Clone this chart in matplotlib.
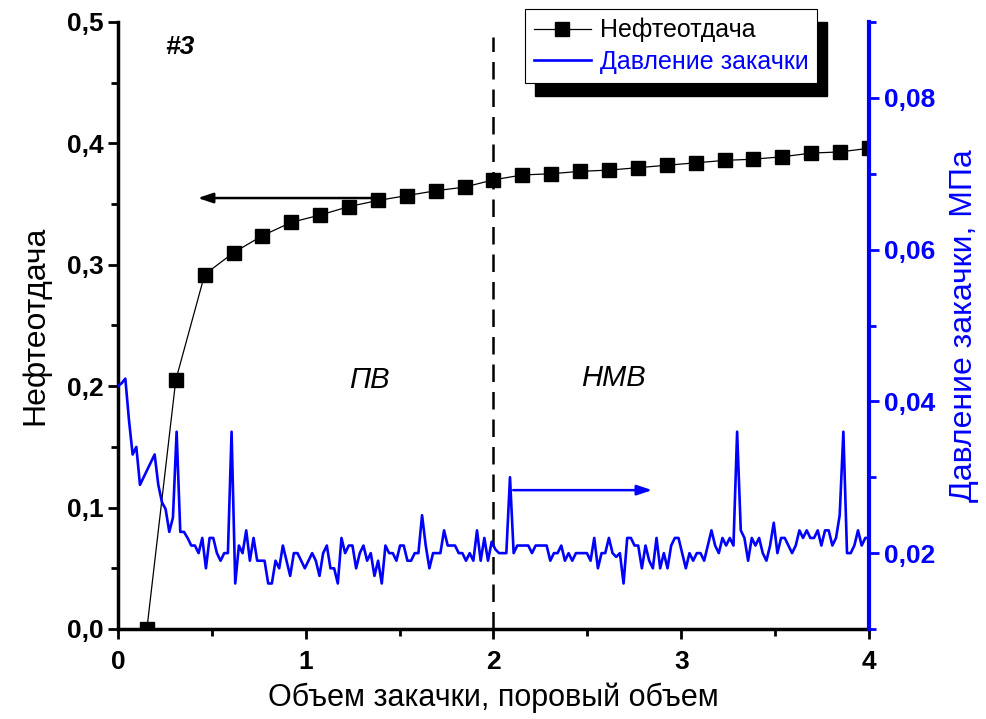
import numpy as np
import matplotlib.pyplot as plt
from matplotlib.patches import Rectangle
from matplotlib.ticker import MultipleLocator, FuncFormatter

plt.rcParams['font.family'] = ['Liberation Sans', 'DejaVu Sans']

# нефтеотдача, 26 точек на интервале 0..4 п.о.
rf_x = np.arange(1, 27) * 4 / 26
rf = [0.0, 0.205, 0.292, 0.310, 0.324, 0.335, 0.341, 0.348, 0.353, 0.357,
      0.361, 0.364, 0.370, 0.374, 0.375, 0.377, 0.378, 0.380, 0.382, 0.384,
      0.386, 0.387, 0.389, 0.392, 0.393, 0.396]

# давление закачки, МПа
p = [0.042, 0.0424, 0.043, 0.0375, 0.033, 0.034, 0.029, 0.030, 0.031, 0.032,
     0.033, 0.029, 0.0267, 0.0258, 0.0228, 0.0247, 0.036, 0.0228, 0.0228, 0.022,
     0.021, 0.021, 0.020, 0.022, 0.018, 0.022, 0.022, 0.020, 0.019, 0.020,
     0.020, 0.036, 0.016,
     0.021, 0.020, 0.023, 0.019, 0.022, 0.019, 0.019, 0.019, 0.016, 0.016,
     0.019, 0.018, 0.021, 0.019, 0.017, 0.020, 0.020, 0.019, 0.018, 0.019,
     0.020, 0.019, 0.017, 0.020, 0.021, 0.018, 0.018, 0.016, 0.022, 0.020,
     0.021, 0.021, 0.018, 0.020, 0.021, 0.019,
     0.020, 0.017, 0.019, 0.016, 0.021, 0.020, 0.020, 0.019, 0.021, 0.021,
     0.019, 0.019, 0.020, 0.020, 0.025, 0.021, 0.018, 0.020, 0.020, 0.020,
     0.023, 0.021, 0.021, 0.021, 0.020, 0.020, 0.019, 0.020, 0.019, 0.023,
     0.019, 0.022, 0.019,
     0.0215, 0.0205, 0.020, 0.020, 0.020, 0.030, 0.020, 0.021, 0.021, 0.021,
     0.021, 0.020, 0.021, 0.021, 0.021, 0.021, 0.019, 0.020, 0.020, 0.021,
     0.019, 0.020, 0.019, 0.020, 0.020, 0.020, 0.020, 0.019, 0.022, 0.018,
     0.020, 0.020, 0.022, 0.020, 0.0195,
     0.020, 0.016, 0.022, 0.022, 0.021, 0.021, 0.018, 0.021, 0.019, 0.018,
     0.022, 0.018, 0.020, 0.018, 0.021, 0.022, 0.022, 0.020, 0.018, 0.020,
     0.019, 0.020, 0.020, 0.019, 0.021, 0.023, 0.021, 0.020, 0.022, 0.021,
     0.022, 0.021, 0.036, 0.023, 0.022, 0.019, 0.022, 0.021, 0.022, 0.020,
     0.019, 0.021, 0.024, 0.020, 0.022, 0.022, 0.021, 0.020, 0.021, 0.023,
     0.022, 0.023, 0.022, 0.022, 0.023, 0.021, 0.023, 0.023, 0.021, 0.022,
     0.025, 0.036, 0.020, 0.020, 0.021, 0.023, 0.021, 0.022, 0.022]
p_x = np.linspace(0, 4, len(p))

blue = '#0000ff'

fig = plt.figure(figsize=(9.87, 7.19), dpi=100)
ax = fig.add_axes([118 / 987, 1 - 629 / 719, 751 / 987, 607 / 719])
ax2 = ax.twinx()

l1, = ax.plot(rf_x, rf, 'k-', lw=0.9, marker='s', ms=9.5, label='Нефтеотдача')
l2, = ax2.plot(p_x, p, color=blue, lw=1.9, label='Давление закачки')

ax.axvline(2, ymax=0.975, color='k', ls=(0, (7, 4)), lw=1.8)

ax.set_xlim(0, 4)
ax.set_ylim(0, 0.5)
ax2.set_ylim(0.01, 0.09)

comma = FuncFormatter(lambda v, pos: ('%.1f' % v).replace('.', ','))
comma2 = FuncFormatter(lambda v, pos: ('%.2f' % v).replace('.', ','))
ax.xaxis.set_major_locator(MultipleLocator(1))
ax.xaxis.set_minor_locator(MultipleLocator(0.5))
ax.yaxis.set_major_locator(MultipleLocator(0.1))
ax.yaxis.set_minor_locator(MultipleLocator(0.05))
ax.yaxis.set_major_formatter(comma)
ax2.yaxis.set_major_locator(MultipleLocator(0.02))
ax2.yaxis.set_minor_locator(MultipleLocator(0.01))
ax2.yaxis.set_major_formatter(comma2)

for s in ['top', 'right']:
    ax.spines[s].set_visible(False)
for s in ['top', 'left', 'bottom']:
    ax2.spines[s].set_visible(False)
ax.spines['left'].set_linewidth(2.5)
ax.spines['bottom'].set_linewidth(2.5)
ax2.spines['right'].set_linewidth(3)
ax2.spines['right'].set_color(blue)

ax.tick_params(which='major', direction='out', length=7, width=2, labelsize=19)
ax.tick_params(axis='x', which='major', pad=8)
ax.tick_params(which='minor', direction='out', length=5, width=2)
ax2.tick_params(which='major', direction='out', length=7, width=2, colors=blue, labelsize=19)
ax2.tick_params(which='minor', direction='out', length=5, width=2, colors=blue)
for lab in ax.get_xticklabels() + ax.get_yticklabels() + ax2.get_yticklabels():
    lab.set_fontweight('bold')

ax.set_xlabel('Объем закачки, поровый объем', fontsize=22, labelpad=6)
ax.set_ylabel('Нефтеотдача', fontsize=23, labelpad=12)
ax2.set_ylabel('Давление закачки, МПа', fontsize=23, color=blue, labelpad=10)

ax.text(0.33, 0.479, '#3', fontsize=19, fontweight='bold', style='italic', ha='center', va='center')
ax.text(1.34, 0.205, 'ПВ', fontsize=21, style='italic', ha='center', va='center')
ax.text(2.64, 0.207, 'НМВ', fontsize=21, style='italic', ha='center', va='center')

ax.annotate('', xy=(0.41, 0.355), xytext=(1.385, 0.355),
            arrowprops=dict(arrowstyle='-|>,head_length=0.9,head_width=0.3', color='k', lw=1.8))
ax2.annotate('', xy=(2.86, 0.0283), xytext=(2.09, 0.0283),
             arrowprops=dict(arrowstyle='-|>,head_length=0.9,head_width=0.3', color=blue, lw=1.8))

leg = fig.legend(handles=[l1, l2], loc='upper left', bbox_to_anchor=(525 / 987, 1 - 9 / 719),
                 fontsize=18, frameon=True, fancybox=False, edgecolor='k', framealpha=1,
                 numpoints=1, handlelength=2.3, borderpad=0.35, labelspacing=0.3,
                 handletextpad=0.35, borderaxespad=0)
leg.get_frame().set_linewidth(0.8)
leg.get_texts()[1].set_color(blue)

fig.canvas.draw()
bb = leg.get_window_extent().transformed(fig.transFigure.inverted())
shadow = Rectangle((bb.x0 + 10 / 987, bb.y0 - 13 / 719), bb.width, bb.height,
                   transform=fig.transFigure, color='k', zorder=leg.get_zorder() - 1)
fig.add_artist(shadow)

fig.savefig('out.png', dpi=100)
